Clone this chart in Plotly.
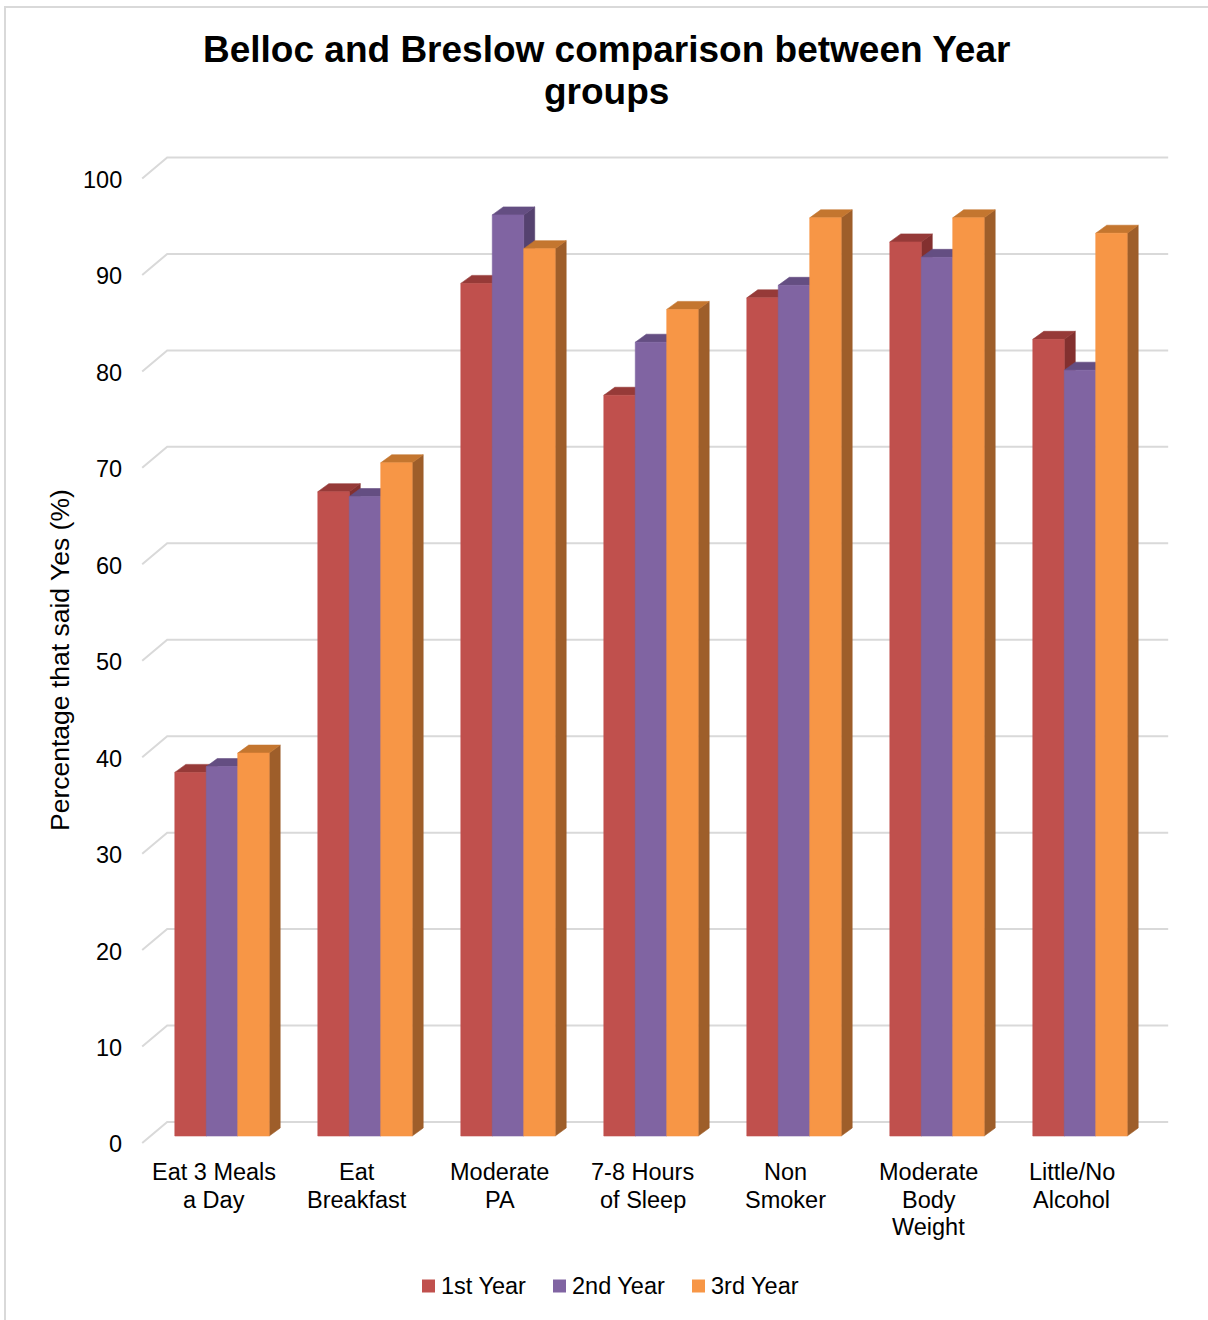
import plotly.graph_objects as go

# ---- data -------------------------------------------------------------
categories = ["Eat 3 Meals<br>a Day", "Eat<br>Breakfast", "Moderate<br>PA",
              "7-8 Hours<br>of Sleep", "Non<br>Smoker", "Moderate<br>Body<br>Weight",
              "Little/No<br>Alcohol"]
series_names = ["1st Year", "2nd Year", "3rd Year"]
first_year = [37.7, 66.8, 88.4, 76.8, 86.9, 92.7, 82.6]
second_year = [38.3, 66.3, 95.5, 82.3, 88.2, 91.1, 79.4]
third_year = [39.7, 69.8, 92.0, 85.7, 95.2, 95.2, 93.6]
y_ticks = list(range(0, 101, 10))

title_lines = ["Belloc and Breslow comparison between Year", "groups"]
y_title = "Percentage that said Yes (%)"

# ---- styling / geometry ----------------------------------------------
W, H = 1208, 1320
ML, MR, MT, MB = 100, 20, 140, 160
PW, PH = W - ML - MR, H - MT - MB
PX_PER_CAT = 143.0
PX_PER_UNIT = 9.645
X_ORIGIN_PX = 222.0       # pixel centre of the first category
Y_ORIGIN_PX = 1136.0      # pixel of value 0 on the bar plane

FONT = "Liberation Sans, Arial, sans-serif"
front_colors = ["#C0504D", "#8064A2", "#F79646"]
top_colors = ["#963A38", "#644E82", "#C4762F"]
side_colors = ["#83302F", "#55426F", "#9E5E2A"]
grid_color = "#D9D9D9"

BAR_W = 0.22
BAR_DX = 11 / PX_PER_CAT
BAR_DY = 8 / PX_PER_UNIT
FRONT_DX, FRONT_DY = -8.3 / PX_PER_CAT, -7 / PX_PER_UNIT
BACK_DX, BACK_DY = 16.7 / PX_PER_CAT, 14 / PX_PER_UNIT
FLOOR_X0, FLOOR_X1 = -0.5, len(categories) - 0.5

x_range = [(ML - X_ORIGIN_PX) / PX_PER_CAT, (W - MR - X_ORIGIN_PX) / PX_PER_CAT]
y_range = [(Y_ORIGIN_PX - (H - MB)) / PX_PER_UNIT, (Y_ORIGIN_PX - MT) / PX_PER_UNIT]


def paper_x(px):
    return (px - ML) / PW


def paper_y(py):
    return (H - MB - py) / PH


fig = go.Figure()

# back wall gridlines with their left-wall diagonals
gx, gy = [], []
for v in y_ticks:
    gx += [FLOOR_X0 + FRONT_DX, FLOOR_X0 + BACK_DX, FLOOR_X1 + BACK_DX, None]
    gy += [v + FRONT_DY, v + BACK_DY, v + BACK_DY, None]
fig.add_trace(go.Scatter(x=gx, y=gy, mode="lines", line=dict(color=grid_color, width=2),
                         hoverinfo="skip", showlegend=False))

# 3-D style columns: each series draws side, top and front faces
all_series = [first_year, second_year, third_year]
for s, vals in enumerate(all_series):
    faces = {"side": ([], []), "top": ([], []), "front": ([], [])}
    for i, v in enumerate(vals):
        x0 = i - 1.5 * BAR_W + s * BAR_W
        x1 = x0 + BAR_W
        fx, fy = faces["front"]
        fx += [x0, x1, x1, x0, x0, None]
        fy += [0, 0, v, v, 0, None]
        tx, ty = faces["top"]
        tx += [x0, x1, x1 + BAR_DX, x0 + BAR_DX, x0, None]
        ty += [v, v, v + BAR_DY, v + BAR_DY, v, None]
        sx, sy = faces["side"]
        sx += [x1, x1 + BAR_DX, x1 + BAR_DX, x1, x1, None]
        sy += [0, BAR_DY, v + BAR_DY, v, 0, None]
    for face, color in (("side", side_colors[s]), ("top", top_colors[s]),
                        ("front", front_colors[s])):
        xs, ys = faces[face]
        fig.add_trace(go.Scatter(
            x=xs, y=ys, mode="lines", fill="toself", fillcolor=color,
            line=dict(color=color, width=0.6), name=series_names[s],
            hoverinfo="skip", showlegend=False))

annotations = []

# title
for j, line in enumerate(title_lines):
    annotations.append(dict(
        text=f"<b>{line}</b>", xref="paper", yref="paper",
        x=paper_x(W / 2 + 2), y=paper_y(49 + 43 * j), xanchor="center", yanchor="middle",
        showarrow=False, font=dict(family=FONT, size=37, color="#000000")))

# y tick labels on the front plane
for v in y_ticks:
    annotations.append(dict(
        text=str(v), xref="x", yref="y",
        x=FLOOR_X0 + FRONT_DX - 18.5 / PX_PER_CAT, y=v + FRONT_DY - 0.15,
        xanchor="right", yanchor="middle", showarrow=False,
        font=dict(family=FONT, size=23.5, color="#000000")))

# y axis title
annotations.append(dict(
    text=y_title, xref="paper", yref="paper", x=paper_x(60), y=paper_y(660),
    textangle=-90, xanchor="center", yanchor="middle", showarrow=False,
    font=dict(family=FONT, size=26.5, color="#000000")))

# category labels
for i, cat in enumerate(categories):
    for j, line in enumerate(cat.split("<br>")):
        annotations.append(dict(
            text=line, xref="x", yref="paper", x=i + FRONT_DX,
            y=paper_y(1172 + 27.5 * j), xanchor="center", yanchor="middle",
            showarrow=False, font=dict(family=FONT, size=23.5, color="#000000")))

# legend
shapes = []
legend_square_px = [422, 553, 692]
for s, name in enumerate(series_names):
    lx = legend_square_px[s]
    shapes.append(dict(type="rect", xref="paper", yref="paper",
                       x0=paper_x(lx), x1=paper_x(lx + 13),
                       y0=paper_y(1292.5), y1=paper_y(1279.5),
                       fillcolor=front_colors[s], line=dict(width=0)))
    annotations.append(dict(
        text=name, xref="paper", yref="paper", x=paper_x(lx + 17), y=paper_y(1286),
        xanchor="left", yanchor="middle", showarrow=False,
        font=dict(family=FONT, size=23.5, color="#000000")))

# chart area border
shapes.append(dict(type="rect", xref="paper", yref="paper",
                   x0=paper_x(5), x1=paper_x(W + 10), y0=paper_y(H + 10), y1=paper_y(7),
                   line=dict(color=grid_color, width=2), fillcolor="rgba(0,0,0,0)",
                   layer="below"))

fig.update_layout(
    width=W, height=H,
    margin=dict(l=ML, r=MR, t=MT, b=MB),
    paper_bgcolor="white", plot_bgcolor="white",
    xaxis=dict(range=x_range, visible=False, fixedrange=True),
    yaxis=dict(range=y_range, visible=False, fixedrange=True),
    annotations=annotations, shapes=shapes, showlegend=False,
)

fig.write_html("out.html")
